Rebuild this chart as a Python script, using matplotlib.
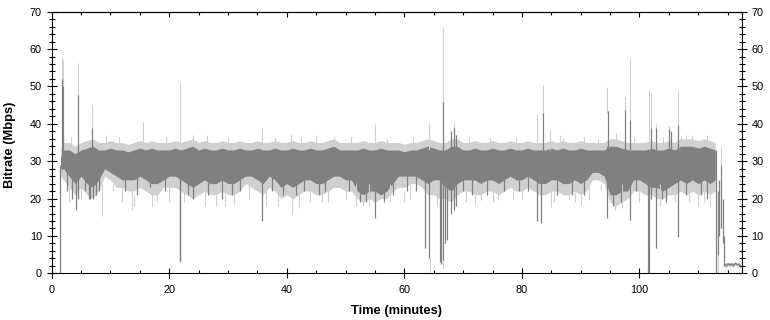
import matplotlib
matplotlib.use("Agg")
import matplotlib.pyplot as plt
from matplotlib.ticker import MultipleLocator

plt.rcParams['font.family'] = ['Liberation Sans', 'DejaVu Sans']

# ---- data ----
# main band envelope, per minute: light upper, dark upper, dark lower, light lower (Mbps)
env_t = [1.5] + list(range(2, 113)) + [112.9]
light_hi = [33, 35, 35, 34, 35, 35.5, 36, 35, 35, 35.5, 35, 35, 34.5, 35, 35.5, 35, 35.5, 35, 35, 35,
            35.5, 35, 35.5, 36, 35, 35.5, 35, 35, 35.5, 35, 35, 35.5, 35, 35, 35.5, 35, 35, 35.5, 35, 35,
            35.5, 35, 35, 35.5, 35, 35, 35.5, 36, 35, 35, 35, 35, 35.5, 35, 35, 35.5, 35, 35, 35, 34.5,
            35, 35, 35.5, 36, 35.5, 35, 35, 36, 36, 35, 35, 35.5, 35, 35, 35.5, 35, 35, 35.5, 35, 35,
            35.5, 35, 35, 35, 35.5, 35, 35.5, 35, 35, 35.5, 35, 35, 35, 35, 36, 36, 35.5, 35, 35, 35,
            35, 35.5, 35, 35, 35.5, 35, 36, 36, 36, 35.5, 36, 35.5, 35]
dark_hi = [31, 33, 33, 32, 33, 33.5, 34, 33, 33, 33.5, 33, 33, 32.5, 33, 33.5, 33, 33.5, 33, 33, 33,
           33.5, 33, 33.5, 34, 33, 33.5, 33, 33, 33.5, 33, 33, 33.5, 33, 33, 33.5, 33, 33, 33.5, 33, 33,
           33.5, 33, 33, 33.5, 33, 33, 33.5, 34, 33, 33, 33, 33, 33.5, 33, 33, 33.5, 33, 33, 33, 32.5,
           33, 33, 33.5, 34, 33.5, 33, 33, 34, 34, 33, 33, 33.5, 33, 33, 33.5, 33, 33, 33.5, 33, 33,
           33.5, 33, 33, 33, 33.5, 33, 33.5, 33, 33, 33.5, 33, 33, 33, 33, 34, 34, 33.5, 33, 33, 33,
           33, 33.5, 33, 33, 33.5, 33, 34, 34, 34, 33.5, 34, 33.5, 33]
dark_lo = [28, 28, 26, 24, 26, 24, 23, 25, 28, 27, 26, 25, 25, 25, 26, 25, 24, 24, 25, 26,
           26, 25, 24, 23, 24, 25, 24, 24, 25, 24, 24, 25, 26, 26, 25, 24, 26, 25, 23, 24,
           23, 24, 25, 25, 24, 24, 25, 26, 26, 25, 25, 22, 21, 22, 22, 21, 22, 24, 26, 26,
           26, 26, 25, 24, 25, 25, 23, 22, 24, 25, 25, 25, 24, 25, 25, 24, 25, 26, 25, 25,
           26, 25, 24, 24, 25, 25, 24, 24, 25, 24, 25, 27, 27, 26, 21, 21, 22, 22, 25, 25,
           24, 23, 23, 22, 23, 24, 25, 24, 25, 24, 25, 24, 25]
light_lo = [26, 25, 23, 21, 23, 21, 20, 22, 26, 25, 23, 23, 22, 22, 23, 22, 21, 21, 23, 23,
            23, 22, 21, 20, 21, 22, 21, 21, 22, 21, 21, 22, 24, 23, 22, 21, 23, 22, 20, 21,
            20, 21, 22, 22, 21, 21, 22, 23, 23, 22, 22, 20, 19, 20, 19, 20, 20, 22, 23, 23,
            24, 24, 23, 21, 21, 20, 20, 19, 21, 22, 22, 21, 21, 22, 22, 21, 22, 23, 22, 22,
            23, 22, 21, 21, 22, 22, 21, 21, 22, 21, 22, 25, 25, 24, 19, 18, 19, 20, 22, 22,
            21, 21, 20, 20, 21, 21, 22, 21, 22, 21, 22, 21, 22]

# isolated spikes / dropouts: time (min), low (Mbps), high (Mbps)
dark_spk_t = [1.45, 1.75, 1.85, 3.5, 4.2, 4.5, 6.5, 6.8, 7.0, 21.8, 21.9, 35.7, 55.0,
              63.6, 64.2, 66.0, 66.2, 66.5, 67.0, 67.3, 68.0, 68.4, 68.8, 82.5, 83.3, 83.6,
              94.4, 94.6, 97.6, 98.4, 101.4, 101.6, 101.9, 102.9, 105.1, 105.3, 106.6,
              112.95, 113.3, 113.6, 113.9, 114.2, 114.4,
              2.6, 5.6, 6.3, 7.5, 8.0, 12.5, 14.5, 16.7, 19.2, 23.2, 24.1, 26.6, 28.9, 30.6,
              32.0, 37.5, 39.4, 41.5, 43.0, 45.5, 46.5, 50.5, 52.5, 53.5, 56.5, 58.0, 60.5,
              62.0, 70.0, 71.5, 74.0, 77.0, 79.5, 81.0, 86.0, 88.5, 90.5, 95.5, 96.8, 99.5,
              103.8, 104.5, 108.0, 110.5, 111.5]
dark_spk_lo = [0, 28, 28, 20, 17, 20, 20, 28, 20, 3.1, 3.5, 14, 14.7,
               6.8, 4, 3, 2.5, 3.5, 8, 9, 16, 17, 18, 14, 13.5, 28,
               14.7, 25, 25, 14.3, 0, 0, 20, 6.7, 25, 25, 9.6,
               0, 5, 10, 12, 8, 2,
               22, 22, 20, 21, 22, 22, 21, 23, 22, 21, 20, 21, 20, 21,
               22, 22, 21, 21, 22, 21, 22, 22, 19, 19, 19, 21, 22,
               22, 22, 21, 21, 22, 22, 22, 21, 21, 21, 18, 19, 22,
               20, 19, 21, 21, 20]
dark_spk_hi = [29, 52, 50, 30, 30, 47.8, 30, 39, 30, 33, 33, 33, 33,
               33, 33, 30, 30, 45.8, 30, 30, 38, 39, 37, 33, 33, 42.9,
               34, 43.3, 43.6, 41, 33, 33, 38.8, 39, 38.5, 38, 39.7,
               33, 22, 25, 29, 20, 10,
               29, 29, 29, 29, 29, 29, 29, 29, 29, 29, 29, 29, 29, 29,
               29, 29, 29, 29, 29, 29, 29, 29, 29, 29, 29, 29, 29,
               29, 29, 29, 29, 29, 29, 29, 29, 29, 29, 29, 29, 29,
               29, 29, 29, 29, 29]

light_spk_t = [1.75, 1.85, 4.5, 6.8, 8.5, 13.6, 14.0, 15.6, 18.0, 21.8, 24.0, 28.0, 31.0,
               35.7, 40.8, 40.9, 44.0, 46.0, 48.0, 53.0, 55.0, 59.9, 64.2, 64.3, 66.5, 66.6,
               68.4, 73.0, 76.0, 82.5, 83.6, 84.8, 84.9, 87.0, 88.0, 90.0, 94.4, 95.8, 96.0,
               97.6, 98.4, 101.6, 101.9, 102.9, 105.1, 106.6, 107.0, 109.0, 110.0, 113.3, 113.9,
               3.0, 5.0, 10.5, 12.0, 17.0, 20.0, 22.5, 26.0, 29.5, 33.5, 36.5, 38.5, 42.0, 47.0,
               50.0, 51.8, 54.0, 57.5, 61.0, 65.5, 70.5, 72.0, 75.0, 78.5, 80.0, 85.5, 89.0,
               91.5, 93.5, 97.0, 100.0, 103.5, 106.0, 108.5, 111.0, 112.0,
               3.3, 9.2, 11.5, 19.5, 26.5, 30.0, 38.0, 42.5, 45.0, 51.0, 57.0, 61.5, 71.0,
               74.5, 79.0, 86.5, 90.5, 93.0, 99.0, 104.0, 108.0, 111.5]
light_spk_lo = [50, 50, 47, 38, 15.4, 17, 18, 34, 19, 33, 34, 18, 18.5,
                33, 34, 16, 19, 19, 34, 18, 34, 19, 33, 0.4, 45, 1.5,
                38, 19.5, 19.5, 33, 42, 33, 17.8, 34, 19.5, 18.4, 43, 17, 34,
                43, 41, 33, 38, 38, 38, 39, 34, 34, 18, 0, 29,
                19, 20, 22, 19, 18, 19, 19, 18, 18, 20, 18, 18, 17.5, 19,
                20, 18, 18, 19, 20, 18, 19, 18.5, 19, 20, 20, 19, 19,
                19.5, 22, 17.5, 19, 18, 19, 19, 19, 18,
                34, 34, 34, 34, 34, 34, 34, 34, 34, 34, 34, 34, 34,
                34, 34, 34, 34, 34, 34, 34, 34, 34]
light_spk_hi = [58, 57, 56.4, 45, 24, 22, 21, 40.6, 22, 50.9, 37, 21, 21,
                39, 37.3, 22, 22, 22, 36.5, 21, 40, 22, 40.3, 4, 65.6, 4,
                40.2, 22, 22, 42.4, 50.4, 38.4, 22, 36.5, 22, 21, 49.8, 21, 37.5,
                47.3, 57.3, 49.1, 48.2, 40, 39.3, 48.5, 36.5, 37, 22, 5, 33.9,
                24, 24, 24, 24, 24, 24, 24, 24, 24, 24, 24, 24, 24, 24,
                24, 24, 24, 24, 24, 24, 24, 24, 24, 24, 24, 24, 24,
                24, 24, 24, 24, 24, 24, 24, 24, 24,
                36.5, 37, 36.5, 36.5, 37, 36.5, 36.5, 36.5, 37, 36.5, 36, 36.5, 36.5,
                36.5, 36.5, 37, 36.5, 36, 36.5, 36.5, 37, 37]

# low-rate tail after the programme ends
tail_t = [114.5, 114.8, 115.1, 115.4, 115.7, 116.0, 116.3, 116.6, 116.9, 117.2]
tail_v = [2.4, 2.0, 2.6, 2.2, 2.5, 2.1, 2.7, 2.3, 2.4, 2.0]
tail_hi = [2.9, 2.7, 3.0, 2.8, 3.0, 2.6, 3.1, 2.9, 2.8, 2.6]
tail_lo = [1.6, 1.5, 2.0, 1.7, 1.9, 1.6, 2.1, 1.8, 1.9, 1.5]

x_ticks = [0, 20, 40, 60, 80, 100]
y_ticks = [0, 10, 20, 30, 40, 50, 60, 70]

DARK = '#808080'
LIGHT = '#d0d0d0'

fig = plt.figure(figsize=(7.7, 3.2), dpi=100)
ax = fig.add_axes([51.7 / 770, 1 - 273.3 / 320, 690 / 770, 261.6 / 320])

ax.fill_between(env_t, light_lo, light_hi, color=LIGHT, lw=0)
ax.vlines(light_spk_t, light_spk_lo, light_spk_hi, color=LIGHT, lw=0.8)
ax.fill_between(tail_t, tail_lo, tail_hi, color=LIGHT, lw=0)
ax.fill_between(env_t, dark_lo, dark_hi, color=DARK, lw=0)
ax.vlines(dark_spk_t, dark_spk_lo, dark_spk_hi, color=DARK, lw=0.9)
ax.plot(tail_t, tail_v, color=DARK, lw=1.0)

ax.set_xlim(0, 117.4)
ax.set_ylim(0, 70)
ax.set_xticks(x_ticks)
ax.set_yticks(y_ticks)
ax.xaxis.set_minor_locator(MultipleLocator(5))
ax.yaxis.set_minor_locator(MultipleLocator(2))

for s in ax.spines.values():
    s.set_linewidth(0.8)
    s.set_color('black')

ax.tick_params(axis='y', which='both', left=True, right=True, labelleft=True, labelright=True,
               direction='inout', labelsize=7.8, width=0.8, pad=3.5)
ax.tick_params(axis='y', which='major', length=7)
ax.tick_params(axis='y', which='minor', length=4.5)
ax.tick_params(axis='x', which='major', direction='inout', length=7.2, width=0.8,
               labelsize=7.8, pad=5, top=False)
ax.tick_params(axis='x', which='minor', direction='in', length=2.4, width=0.8, top=False)

sec = ax.secondary_xaxis('top')
sec.set_xticks(x_ticks)
sec.xaxis.set_minor_locator(MultipleLocator(5))
sec.tick_params(axis='x', which='major', direction='in', length=3.6, width=0.8, labeltop=False)
sec.tick_params(axis='x', which='minor', direction='in', length=2.2, width=0.8)
sec.spines['top'].set_linewidth(0.8)

ax.set_xlabel('Time (minutes)', fontsize=9.3, fontweight='bold', va='center')
ax.xaxis.set_label_coords(0.5, -0.144)
ax.set_ylabel('Bitrate (Mbps)', fontsize=9.3, fontweight='bold', va='center')
ax.yaxis.set_label_coords(-0.0605, 0.49)

fig.savefig('out.png', dpi=100)
